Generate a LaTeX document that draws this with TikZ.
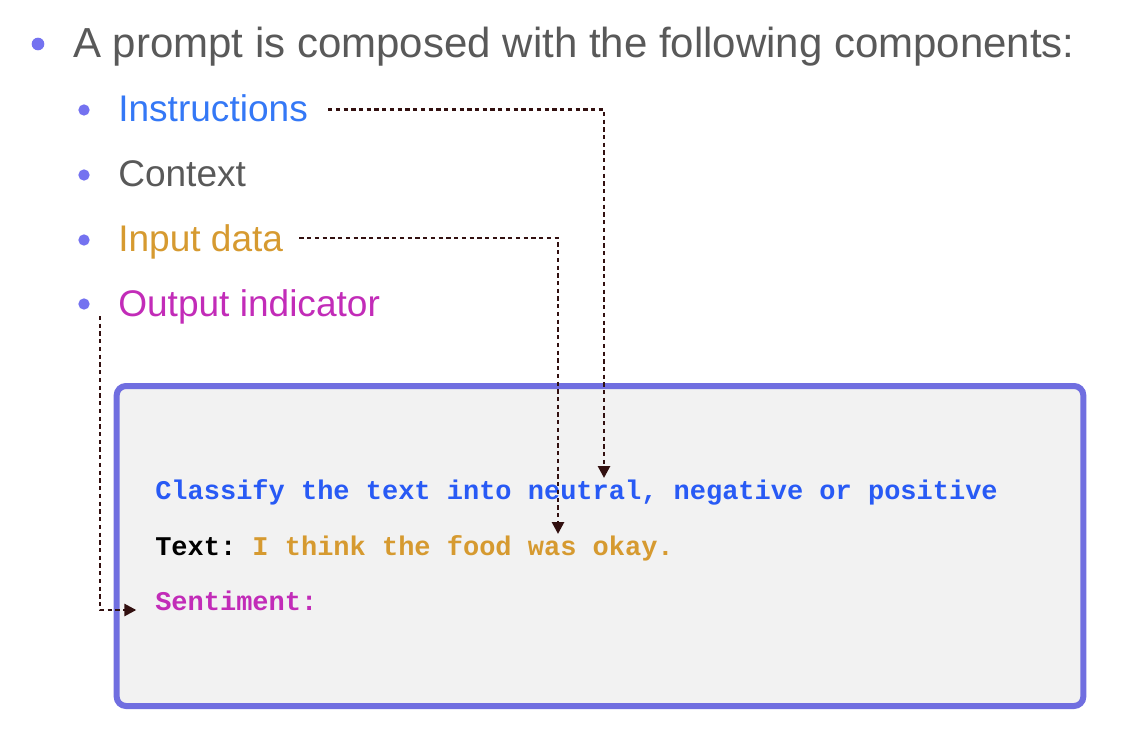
\documentclass[tikz,border=0pt]{standalone}
\usepackage{fontspec}
\setmainfont{Liberation Sans}
\setmonofont{Liberation Mono}
\usetikzlibrary{arrows.meta}
\definecolor{dotblue}{RGB}{116,114,240}
\definecolor{headgray}{RGB}{89,89,89}
\definecolor{instrblue}{RGB}{52,120,246}
\definecolor{inputgold}{RGB}{214,154,48}
\definecolor{outputpink}{RGB}{194,44,184}
\definecolor{codeblue}{RGB}{40,90,245}
\definecolor{framelilac}{RGB}{112,110,224}
\definecolor{panelgray}{RGB}{242,242,242}
\definecolor{linkbrown}{RGB}{50,16,16}
\begin{document}
\begin{tikzpicture}[x=0.75pt,y=-0.75pt,
  dot/.style={circle,fill=dotblue,inner sep=0,minimum size=8.5pt},
  item/.style={anchor=base west,inner sep=0,font=\fontsize{27.8}{32}\selectfont},
  code/.style={anchor=base west,inner sep=0,font=\fontsize{20.25}{24}\selectfont\ttfamily\bfseries},
  link/.style={linkbrown,line width=2pt,dash pattern=on 3.2pt off 2.6pt,-{Triangle[width=9pt,length=9pt]}}]
\useasboundingbox (0,0) rectangle (1126,748);
\node[dot,minimum size=9.5pt] (head-dot) at (38,44) {};
\node[anchor=base west,inner sep=0,text=headgray,font=\fontsize{31.5}{36}\selectfont] (head) at (73,58) {A prompt is composed with the following components:};
\node[dot] (instr-dot) at (84,110) {};
\node[dot] (context-dot) at (84,175) {};
\node[dot] (input-dot) at (84,240) {};
\node[dot] (output-dot) at (84,304) {};
\node[item,text=instrblue] (instr) at (118,122) {Instructions};
\node[item,text=headgray] (context) at (118,187) {Context};
\node[item,text=inputgold] (input) at (118,252) {Input data};
\node[item,text=outputpink] (output) at (118,316) {Output indicator};
\node[draw=framelilac,line width=4.5pt,fill=panelgray,rounded corners=7pt,minimum width=725pt,minimum height=240pt] (prompt) at (600,546) {};
\node[code,text=codeblue] (classify) at (155,499) {Classify the text into neutral, negative or positive};
\node[code,text=black] (text-label) at (155,555) {Text:};
\node[code,text=inputgold,anchor=base west] (text-value) at ([xshift=6*12.15pt]text-label.base west) {I think the food was okay.};
\node[code,text=outputpink] (sentiment) at (155,610) {Sentiment:};
\coordinate (instr-tip) at (604,478);
\coordinate (input-tip) at (558,534);
\draw[link] ([shift={(15pt,9.5pt)}]instr.base east) -| (instr-tip);
\draw[link] ([shift={(12pt,10.5pt)}]input.base east) -| (input-tip);
\draw[link] ([shift={(-13.5pt,0pt)}]output.base west) |- ([xshift=-14pt]sentiment.base west);
\end{tikzpicture}
\end{document}
